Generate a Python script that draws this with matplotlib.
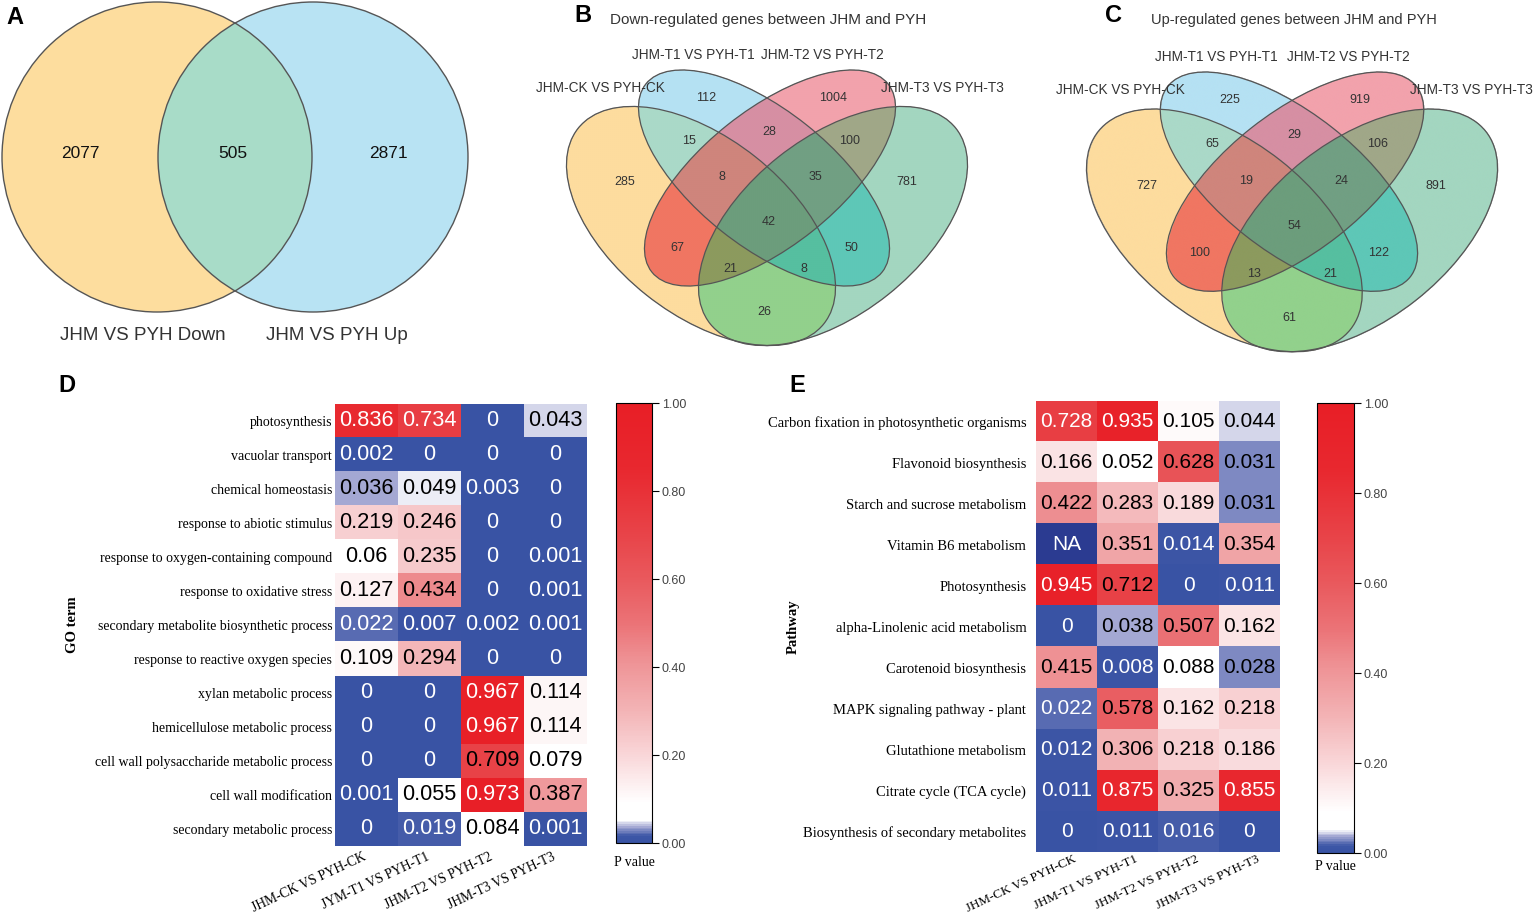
import numpy as np
import matplotlib
matplotlib.use('Agg')
import matplotlib.pyplot as plt
from matplotlib.patches import Circle, Ellipse
from matplotlib.colors import LinearSegmentedColormap, to_rgba
from matplotlib.transforms import Affine2D, ScaledTranslation

SANS = 'Liberation Sans'
SERIF = 'Liberation Serif'
W, H = 1535, 913

# ---------------- data ----------------
# A: two-set venn
venn2_names = ['JHM VS PYH Down', 'JHM VS PYH Up']
venn2_counts = [2077, 505, 2871]  # left only, both, right only

# B / C: four-set venn, region codes (bits: CK=1, T1=2, T2=4, T3=8)
venn4_names = ['JHM-CK VS PYH-CK', 'JHM-T1 VS PYH-T1', 'JHM-T2 VS PYH-T2', 'JHM-T3 VS PYH-T3']
region_codes = [1, 2, 4, 8, 3, 6, 12, 7, 14, 15, 5, 10, 13, 11, 9]
down_counts = [285, 112, 1004, 781, 15, 28, 100, 8, 35, 42, 67, 50, 21, 8, 26]
up_counts = [727, 225, 919, 891, 65, 29, 106, 19, 24, 54, 100, 122, 13, 21, 61]

# D: GO terms
go_terms = ['photosynthesis', 'vacuolar transport', 'chemical homeostasis',
            'response to abiotic stimulus', 'response to oxygen-containing compound',
            'response to oxidative stress', 'secondary metabolite biosynthetic process',
            'response to reactive oxygen species', 'xylan metabolic process',
            'hemicellulose metabolic process', 'cell wall polysaccharide metabolic process',
            'cell wall modification', 'secondary metabolic process']
go_cols = ['JHM-CK VS PYH-CK', 'JYM-T1 VS PYH-T1', 'JHM-T2 VS PYH-T2', 'JHM-T3 VS PYH-T3']
go_p = [[0.836, 0.734, 0, 0.043],
        [0.002, 0, 0, 0],
        [0.036, 0.049, 0.003, 0],
        [0.219, 0.246, 0, 0],
        [0.06, 0.235, 0, 0.001],
        [0.127, 0.434, 0, 0.001],
        [0.022, 0.007, 0.002, 0.001],
        [0.109, 0.294, 0, 0],
        [0, 0, 0.967, 0.114],
        [0, 0, 0.967, 0.114],
        [0, 0, 0.709, 0.079],
        [0.001, 0.055, 0.973, 0.387],
        [0, 0.019, 0.084, 0.001]]

# E: KEGG pathways
pathways = ['Carbon fixation in photosynthetic organisms', 'Flavonoid biosynthesis',
            'Starch and sucrose metabolism', 'Vitamin B6 metabolism', 'Photosynthesis',
            'alpha-Linolenic acid metabolism', 'Carotenoid biosynthesis',
            'MAPK signaling pathway - plant', 'Glutathione metabolism',
            'Citrate cycle (TCA cycle)', 'Biosynthesis of secondary metabolites']
kegg_cols = ['JHM-CK VS PYH-CK', 'JHM-T1 VS PYH-T1', 'JHM-T2 VS PYH-T2', 'JHM-T3 VS PYH-T3']
kegg_p = [[0.728, 0.935, 0.105, 0.044],
          [0.166, 0.052, 0.628, 0.031],
          [0.422, 0.283, 0.189, 0.031],
          [None, 0.351, 0.014, 0.354],
          [0.945, 0.712, 0, 0.011],
          [0, 0.038, 0.507, 0.162],
          [0.415, 0.008, 0.088, 0.028],
          [0.022, 0.578, 0.162, 0.218],
          [0.012, 0.306, 0.218, 0.186],
          [0.011, 0.875, 0.325, 0.855],
          [0, 0.011, 0.016, 0]]

# ---------------- style / layout ----------------
region_colors = {1: '#fddc9e', 2: '#b5e1f3', 4: '#f2a2ac', 8: '#a3d6c0',
                 3: '#aad9c8', 6: '#d68fa3', 12: '#a0a788', 7: '#cf857c',
                 14: '#719f83', 15: '#6c9d7c', 5: '#f07662', 10: '#5ec7b7',
                 13: '#8c9a5e', 11: '#56bfa0', 9: '#92d18c'}
# offsets (px, y down) from the panel anchor
region_pos = {1: (-142, -18), 2: (-61, -102), 4: (66, -102), 8: (140, -18),
              3: (-78, -59), 6: (2, -68), 12: (83, -59), 7: (-45, -23),
              14: (48, -23), 15: (2, 22), 5: (-90, 48), 10: (84, 48),
              13: (-37, 69), 11: (37, 69), 9: (-3, 112)}
name_pos = [(-167, -112), (-74, -145), (55, -145), (175, -112)]
# ellipses: centre offset, semi axes, angle (down-right positive)
ellipses = [((-66, 26), 157, 88, 38.5),
            ((-3, -22), 151, 68, 38.5),
            ((3, -22), 151, 68, -38.5),
            ((66, 26), 157, 88, -38.5)]
EDGE = '#555555'

cmap = LinearSegmentedColormap.from_list('pval', [
    (0.000, '#3953a4'), (0.014, '#3d56a6'), (0.035, '#a3a7d3'), (0.050, '#ffffff'),
    (0.090, '#ffffff'), (0.200, '#f9d6d8'), (0.300, '#f3b4b6'), (0.420, '#ee9093'),
    (0.500, '#eb7276'), (0.600, '#e9595d'), (0.700, '#e84449'), (0.850, '#e8282f'),
    (1.000, '#e81e26')])
cmap.set_bad('#2b3b91')

fig = plt.figure(figsize=(W / 100, H / 100), dpi=100)


def px_axes(l, t, r, b):
    return fig.add_axes([l / W, 1 - b / H, (r - l) / W, (b - t) / H])


canvas = fig.add_axes([0, 0, 1, 1])
canvas.set_axis_off()

# ---------------- A ----------------
left_c = Circle((157, 157), 155, fc='#fddd9e', ec='none')
right_c = Circle((313, 157), 155, fc='#b8e3f3', ec='none')
canvas.add_patch(left_c)
canvas.add_patch(right_c)
mid = Circle((313, 157), 155, fc='#a8dcc8', ec='none')
canvas.add_patch(mid)
mid.set_clip_path(left_c)
for c in [(157, 157), (313, 157)]:
    canvas.add_patch(Circle(c, 155, fill=False, ec=EDGE, lw=1.0))
for x, n in zip([80, 233, 388], venn2_counts):
    canvas.text(x, 153, str(n), ha='center', va='center', fontsize=12.5,
                family=SANS, color='#111')
for x, s in zip([143, 337], venn2_names):
    canvas.text(x, 335, s, ha='center', va='center', fontsize=13.5,
                family=SANS, color='#333')


# ---------------- B / C ----------------
def venn4(cx, cy, sx, sy, counts, title, tx, tsize):
    tr = Affine2D().scale(sx, sy).translate(cx, cy) + canvas.transData
    xx, yy = np.meshgrid(np.linspace(-220, 220, 1100), np.linspace(-170, 170, 850))
    code = np.zeros(xx.shape, dtype=int)
    for k, ((ex, ey), a, b, ang) in enumerate(ellipses):
        t = np.deg2rad(ang)
        dx, dy = xx - ex, yy - ey
        xr = dx * np.cos(t) + dy * np.sin(t)
        yr = -dx * np.sin(t) + dy * np.cos(t)
        inside = (xr / a) ** 2 + (yr / b) ** 2 <= 1
        code[inside] += 2 ** k
    rgba = np.zeros(xx.shape + (4,))
    for k, col in region_colors.items():
        rgba[code == k] = to_rgba(col)
    canvas.imshow(rgba, origin='upper',
                  extent=(cx - 220 * sx, cx + 220 * sx, cy + 170 * sy, cy - 170 * sy),
                  aspect='auto', interpolation='bilinear')
    for (ex, ey), a, b, ang in ellipses:
        canvas.add_patch(Ellipse((ex, ey), 2 * a, 2 * b, angle=ang,
                                 transform=tr, fill=False, ec=EDGE, lw=0.9))
    for k, n in zip(region_codes, counts):
        u, v = region_pos[k]
        canvas.text(u, v, str(n), transform=tr, ha='center', va='center',
                    fontsize=9, family=SANS, color='#333')
    for (u, v), s in zip(name_pos, venn4_names):
        canvas.text(u, v, s, transform=tr, ha='center', va='center',
                    fontsize=9.8, family=SANS, color='#333')
    canvas.text(tx, 20, title, ha='left', va='center', fontsize=tsize,
                family=SANS, color='#333')


venn4(767, 200, 1.0, 1.0, down_counts, 'Down-regulated genes between JHM and PYH', 610, 11)
venn4(1292, 204, 1.025, 1.015, up_counts, 'Up-regulated genes between JHM and PYH', 1151, 10.5)

canvas.set_xlim(0, W)
canvas.set_ylim(H, 0)

# panel letters
for s, x, y in [('A', 15, 17), ('B', 583, 15), ('C', 1113, 15), ('D', 67, 386), ('E', 797, 386)]:
    canvas.text(x, y, s, ha='center', va='center', fontsize=17, fontweight='bold',
                family=SANS, color='black')


# ---------------- D / E heatmaps ----------------
def heatmap(ax, cax, values, rows, cols, ylabel, ylab_x, pv_y, rsize, rpad,
            csize, xsize, xpad, xshift):
    data = np.array(values, dtype=float)
    im = ax.imshow(data, cmap=cmap, vmin=0, vmax=1, aspect='auto', interpolation='nearest')
    for i in range(data.shape[0]):
        for j in range(data.shape[1]):
            v = data[i, j]
            if np.isnan(v):
                s, c = 'NA', 'white'
            else:
                s = f'{v:g}'
                c = 'white' if (v < 0.025 or v > 0.72) else 'black'
            ax.text(j, i, s, ha='center', va='center', fontsize=csize, family=SANS, color=c)
    ax.set_yticks(range(len(rows)), rows, fontsize=rsize, family=SERIF)
    ax.set_xticks(range(len(cols)), cols, rotation=25, ha='right', fontsize=xsize, family=SERIF)
    ax.tick_params(length=0)
    ax.tick_params(axis='y', pad=rpad)
    ax.tick_params(axis='x', pad=xpad)
    shift = ScaledTranslation(xshift / 100, 0, fig.dpi_scale_trans)
    for lab in ax.get_xticklabels():
        lab.set_transform(lab.get_transform() + shift)
    for sp in ax.spines.values():
        sp.set_visible(False)
    cb = fig.colorbar(im, cax=cax, ticks=[0, 0.2, 0.4, 0.6, 0.8, 1.0])
    cb.ax.yaxis.set_major_formatter('{x:.2f}')
    cb.outline.set_linewidth(0.8)
    cb.ax.tick_params(length=5, width=0.8, labelsize=9, labelcolor='#444', pad=2)
    for lab in cb.ax.get_yticklabels():
        lab.set_family(SANS)
    bb = cax.get_position()
    fig.text((bb.x0 + bb.x1) / 2, 1 - pv_y / H, 'P value', ha='center', va='center',
             fontsize=10, family=SERIF)
    apos = ax.get_position()
    fig.text(ylab_x / W, (apos.y0 + apos.y1) / 2, ylabel, rotation=90, ha='center',
             va='center', fontsize=10.5, fontweight='bold', family=SERIF)


axD = px_axes(335, 404, 587, 846)
caxD = px_axes(616, 403, 652, 843)
heatmap(axD, caxD, go_p, go_terms, go_cols, 'GO term', 72, 862, 10, 2, 15.7, 9.8, 3, 2)

axE = px_axes(1036, 401, 1280, 852)
caxE = px_axes(1317, 403, 1354, 853)
heatmap(axE, caxE, kegg_p, pathways, kegg_cols, 'Pathway', 793, 866, 10.5, 7, 15, 9.4, 1, 12)

fig.savefig('out.png', dpi=100)
